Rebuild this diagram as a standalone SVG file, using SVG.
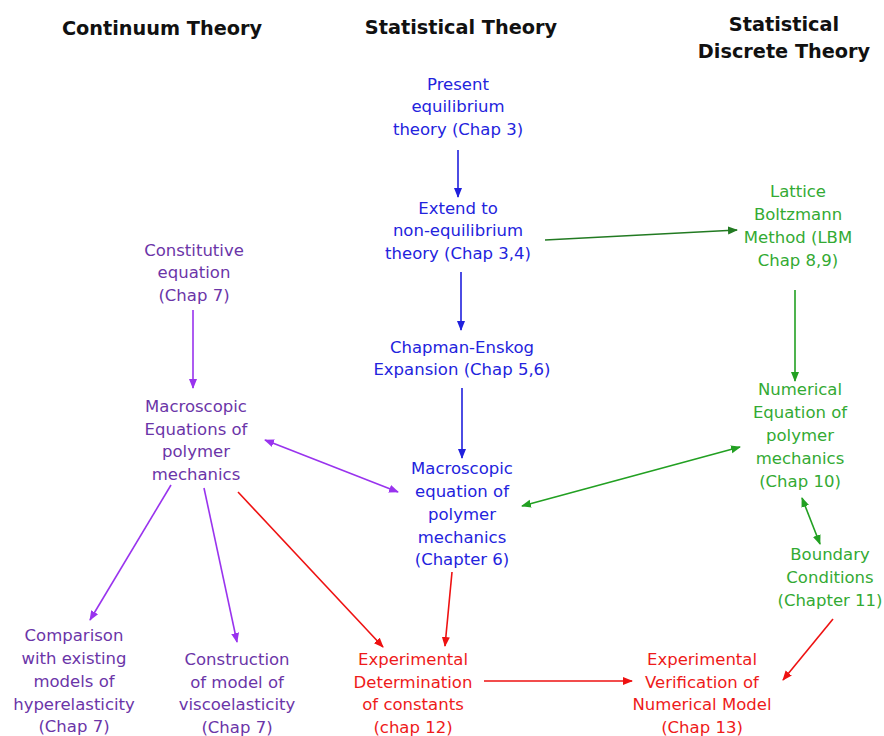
<svg xmlns="http://www.w3.org/2000/svg" width="884" height="736" viewBox="0 0 884 736">
<style>
text{font-family:"DejaVu Sans","Liberation Sans",sans-serif;font-size:16.5px;text-anchor:middle}
.t{font-weight:bold;font-size:19.3px;fill:#111}
.b{fill:#2323dd}.p{fill:#6b35a8}.g{fill:#33aa33}.r{fill:#ee1a1a}
.c line{stroke-width:1.6;fill:none}
</style>
<defs>
<marker id="ab" markerWidth="10" markerHeight="10" refX="9" refY="5" orient="auto" markerUnits="userSpaceOnUse"><path d="M0,1 L10,5 L0,9z" fill="#2020dd"/></marker>
<marker id="ap" markerWidth="10" markerHeight="10" refX="9" refY="5" orient="auto-start-reverse" markerUnits="userSpaceOnUse"><path d="M0,1 L10,5 L0,9z" fill="#9933ee"/></marker>
<marker id="ag" markerWidth="10" markerHeight="10" refX="9" refY="5" orient="auto-start-reverse" markerUnits="userSpaceOnUse"><path d="M0,1 L10,5 L0,9z" fill="#22a022"/></marker>
<marker id="agd" markerWidth="10" markerHeight="10" refX="9" refY="5" orient="auto" markerUnits="userSpaceOnUse"><path d="M0,1 L10,5 L0,9z" fill="#227a22"/></marker>
<marker id="ar" markerWidth="10" markerHeight="10" refX="9" refY="5" orient="auto" markerUnits="userSpaceOnUse"><path d="M0,1 L10,5 L0,9z" fill="#ee1111"/></marker>
</defs>
<g id="titles">
<text class="t" x="162" y="35">Continuum Theory</text>
<text class="t" x="461" y="34">Statistical Theory</text>
<text class="t" x="784" y="31">Statistical</text>
<text class="t" x="784" y="58">Discrete Theory</text>
</g>
<g class="c" id="connectors">
<line x1="458" y1="150" x2="458" y2="197" stroke="#2020dd" marker-end="url(#ab)"/>
<line x1="461" y1="272" x2="461" y2="330" stroke="#2020dd" marker-end="url(#ab)"/>
<line x1="462" y1="388" x2="462" y2="458" stroke="#2020dd" marker-end="url(#ab)"/>
<line x1="545" y1="240" x2="737" y2="230" stroke="#227a22" marker-end="url(#agd)"/>
<line x1="795" y1="290" x2="795" y2="381" stroke="#22a022" marker-end="url(#ag)"/>
<line x1="740" y1="447" x2="522" y2="506" stroke="#22a022" marker-start="url(#ag)" marker-end="url(#ag)"/>
<line x1="802" y1="498" x2="820" y2="544" stroke="#22a022" marker-start="url(#ag)" marker-end="url(#ag)"/>
<line x1="193" y1="310" x2="193" y2="388" stroke="#9933ee" marker-end="url(#ap)"/>
<line x1="265" y1="440" x2="398" y2="492" stroke="#9933ee" marker-start="url(#ap)" marker-end="url(#ap)"/>
<line x1="171" y1="485" x2="90" y2="620" stroke="#9933ee" marker-end="url(#ap)"/>
<line x1="204" y1="488" x2="237" y2="642" stroke="#9933ee" marker-end="url(#ap)"/>
<line x1="238" y1="492" x2="383" y2="647" stroke="#ee1111" marker-end="url(#ar)"/>
<line x1="452" y1="572" x2="445" y2="646" stroke="#ee1111" marker-end="url(#ar)"/>
<line x1="484" y1="681" x2="632" y2="681" stroke="#ee1111" marker-end="url(#ar)"/>
<line x1="833" y1="619" x2="783" y2="680" stroke="#ee1111" marker-end="url(#ar)"/>
</g>
<g id="present" class="b"><text x="458" y="90">Present</text><text x="458" y="112">equilibrium</text><text x="458" y="135">theory (Chap 3)</text></g>
<g id="extend" class="b"><text x="458" y="214">Extend to</text><text x="458" y="236">non-equilibrium</text><text x="458" y="259">theory (Chap 3,4)</text></g>
<g id="chapman" class="b"><text x="462" y="353">Chapman-Enskog</text><text x="462" y="375">Expansion (Chap 5,6)</text></g>
<g id="macro-stat" class="b"><text x="462" y="474">Macroscopic</text><text x="462" y="497">equation of</text><text x="462" y="520">polymer</text><text x="462" y="543">mechanics</text><text x="462" y="565">(Chapter 6)</text></g>
<g id="lbm" class="g"><text x="798" y="197">Lattice</text><text x="798" y="220">Boltzmann</text><text x="798" y="243">Method (LBM</text><text x="798" y="266">Chap 8,9)</text></g>
<g id="numerical" class="g"><text x="800" y="395">Numerical</text><text x="800" y="418">Equation of</text><text x="800" y="441">polymer</text><text x="800" y="464">mechanics</text><text x="800" y="487">(Chap 10)</text></g>
<g id="boundary" class="g"><text x="830" y="560">Boundary</text><text x="830" y="583">Conditions</text><text x="830" y="606">(Chapter 11)</text></g>
<g id="constitutive" class="p"><text x="194" y="256">Constitutive</text><text x="194" y="278">equation</text><text x="194" y="301">(Chap 7)</text></g>
<g id="macro-cont" class="p"><text x="196" y="412">Macroscopic</text><text x="196" y="435">Equations of</text><text x="196" y="457">polymer</text><text x="196" y="480">mechanics</text></g>
<g id="comparison" class="p"><text x="74" y="641">Comparison</text><text x="74" y="664">with existing</text><text x="74" y="687">models of</text><text x="74" y="710">hyperelasticity</text><text x="74" y="732">(Chap 7)</text></g>
<g id="construction" class="p"><text x="237" y="665">Construction</text><text x="237" y="688">of model of</text><text x="237" y="710">viscoelasticity</text><text x="237" y="733">(Chap 7)</text></g>
<g id="exp-det" class="r"><text x="413" y="665">Experimental</text><text x="413" y="688">Determination</text><text x="413" y="710">of constants</text><text x="413" y="733">(chap 12)</text></g>
<g id="exp-ver" class="r"><text x="702" y="665">Experimental</text><text x="702" y="688">Verification of</text><text x="702" y="710">Numerical Model</text><text x="702" y="733">(Chap 13)</text></g>
</svg>
